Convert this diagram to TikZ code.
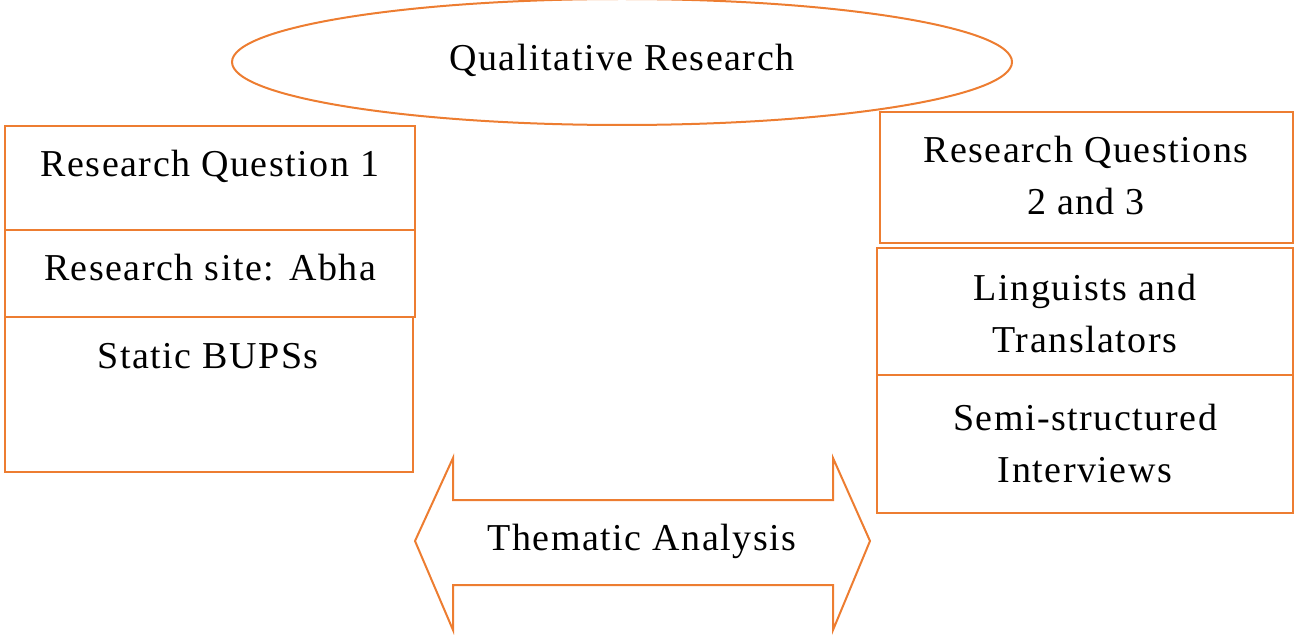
\documentclass[tikz,border=0pt]{standalone}
\usepackage{fontspec}
\setmainfont[LetterSpace=4]{Liberation Serif}
\begin{document}
\begin{tikzpicture}[x=1pt,y=-1pt]
\definecolor{org}{RGB}{237,125,49}
\tikzset{bx/.style={draw=org,line width=2pt},
 lb/.style={font=\fontsize{38}{52}\selectfont,align=center}}
\useasboundingbox (0,0) rectangle (1300,636);
\draw[bx] (622,62) ellipse (390 and 63);
\node[lb] (q) at (622,60) {Qualitative Research};
\draw[bx] (5,126) rectangle (415,230);
\node[lb] (l1) at (210,166) {Research Question 1};
\draw[bx] (5,230) rectangle (415,317);
\node[lb] (l2) at (210,268) {Research site: Abha};
\draw[bx] (5,317) rectangle (413,472);
\node[lb] (l3) at (208,356) {Static BUPSs};
\draw[bx] (880,112) rectangle (1293,243);
\node[lb] (r1) at (1086,176) {Research Questions\\2 and 3};
\draw[bx] (877,248) rectangle (1293,375);
\node[lb] (r2) at (1085,314) {Linguists and\\Translators};
\draw[bx] (877,375) rectangle (1293,513);
\node[lb] (r3) at (1085,443) {Semi-structured\\Interviews};
\draw[bx,line join=miter] (415,541) -- (453,458) -- (453,500) -- (833,500) -- (833,458) -- (870,541)
 -- (833,630) -- (833,585) -- (453,585) -- (453,630) -- cycle;
\node[lb] (ta) at (642,541) {Thematic Analysis};
\end{tikzpicture}
\end{document}
